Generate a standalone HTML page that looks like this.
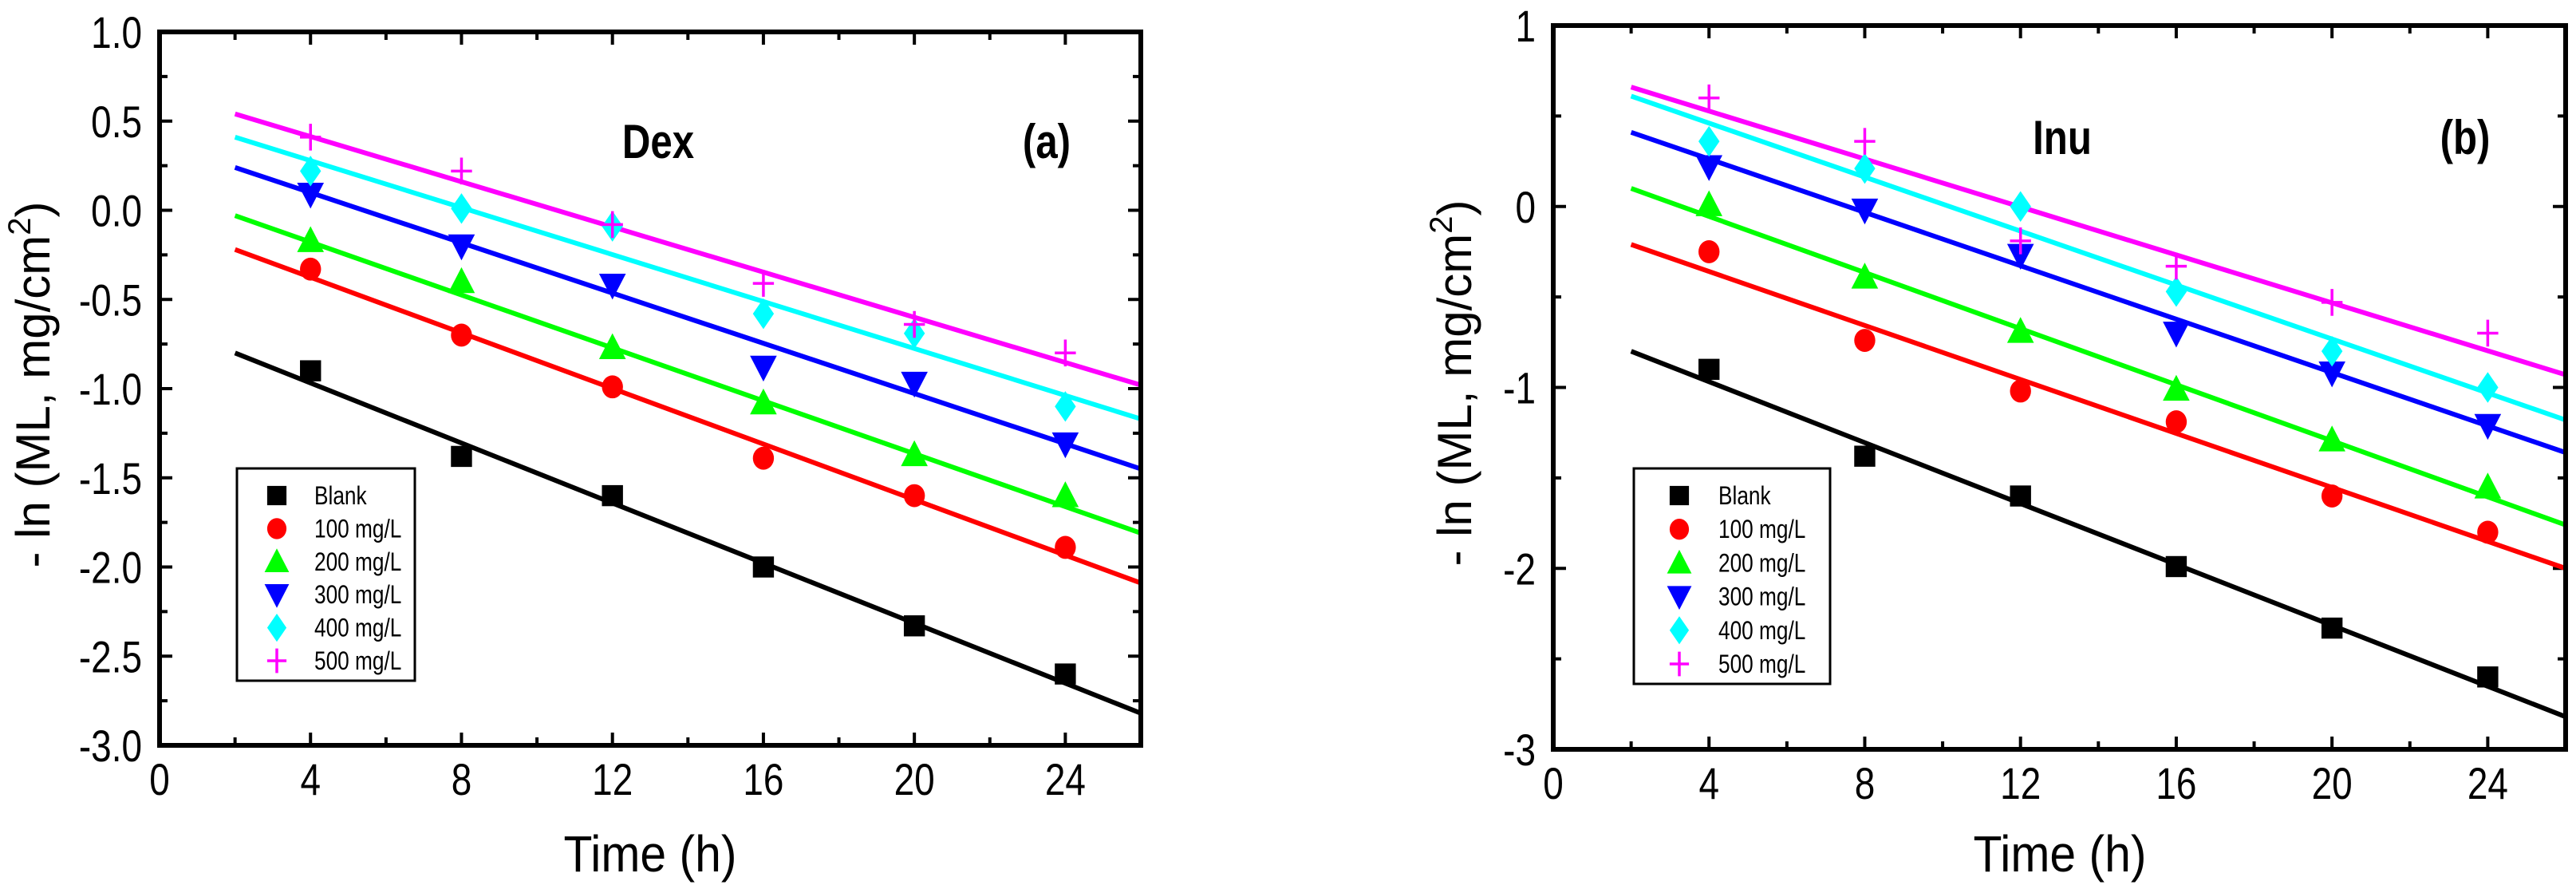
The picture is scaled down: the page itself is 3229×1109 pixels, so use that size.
<!DOCTYPE html>
<html><head><meta charset="utf-8"><style>
html,body{margin:0;padding:0;background:#fff;}
svg{display:block;}
text{font-family:"Liberation Sans",Arial,sans-serif;}
</style></head>
<body>
<svg id="c" width="3229" height="1109" viewBox="0 0 3229 1109" xmlns="http://www.w3.org/2000/svg"></svg>
<script>
// ---- data ----
const times = [4, 8, 12, 16, 20, 24];
const seriesNames = ["Blank", "100 mg/L", "200 mg/L", "300 mg/L", "400 mg/L", "500 mg/L"];
const dexBlank = [-0.9, -1.38, -1.6, -2.0, -2.33, -2.6];
const dex100 = [-0.33, -0.7, -0.99, -1.39, -1.6, -1.89];
const dex200 = [-0.17, -0.4, -0.77, -1.08, -1.37, -1.6];
const dex300 = [0.09, -0.2, -0.42, -0.88, -0.97, -1.31];
const dex400 = [0.22, 0.01, -0.09, -0.58, -0.69, -1.1];
const dex500 = [0.41, 0.22, -0.08, -0.41, -0.64, -0.8];
const dexFitStart = [-0.8, -0.22, -0.03, 0.24, 0.41, 0.54];
const dexFitEnd = [-2.82, -2.09, -1.81, -1.45, -1.17, -0.98];
const inuBlank = [-0.9, -1.38, -1.6, -1.99, -2.33, -2.6];
const inu100 = [-0.25, -0.74, -1.02, -1.19, -1.6, -1.8];
const inu200 = [0.01, -0.39, -0.69, -1.01, -1.29, -1.55];
const inu300 = [0.22, -0.02, -0.27, -0.7, -0.92, -1.21];
const inu400 = [0.36, 0.21, 0.0, -0.47, -0.8, -1.0];
const inu500 = [0.6, 0.36, -0.19, -0.33, -0.53, -0.7];
const inuFitStart = [-0.8, -0.21, 0.10, 0.41, 0.61, 0.66];
const inuFitEnd = [-2.82, -2.0, -1.76, -1.36, -1.18, -0.93];
const fitX = [2, 26];
const xTickLabels = ["0", "4", "8", "12", "16", "20", "24"];
const dexYTicks = ["1.0", "0.5", "0.0", "-0.5", "-1.0", "-1.5", "-2.0", "-2.5", "-3.0"];
const inuYTicks = ["1", "0", "-1", "-2", "-3"];

const colors = ["#000000", "#ff0000", "#00ff00", "#0000ff", "#00ffff", "#ff00ff"];
const shapes = ["square", "circle", "up", "down", "diamond", "plus"];
const NS = "http://www.w3.org/2000/svg";
const svg = document.getElementById("c");

function mk(tag, attrs, parent) {
  const e = document.createElementNS(NS, tag);
  for (const k in attrs) e.setAttribute(k, attrs[k]);
  (parent || svg).appendChild(e);
  return e;
}
function txt(s, x, y, size, anchor, parent, sx, weight) {
  const g = mk("g", {transform: `translate(${x},${y}) scale(${sx || 1},1)`}, parent);
  const t = mk("text", {x: 0, y: 0, "font-size": size, "text-anchor": anchor, fill: "#000", "font-weight": weight || "normal"}, g);
  t.textContent = s;
  return t;
}
function marker(shape, color, cx, cy, sc, parent) {
  let e;
  const a = 11 * sc;
  if (shape === "square") e = mk("rect", {x: cx - a, y: cy - a, width: 2 * a, height: 2 * a, fill: color}, parent);
  else if (shape === "circle") e = mk("ellipse", {cx: cx, cy: cy, rx: a, ry: 12 * sc, fill: color}, parent);
  else if (shape === "up") e = mk("polygon", {points: `${cx},${cy-15*sc} ${cx-14*sc},${cy+12*sc} ${cx+14*sc},${cy+12*sc}`, fill: color}, parent);
  else if (shape === "down") e = mk("polygon", {points: `${cx},${cy+15*sc} ${cx-14*sc},${cy-12*sc} ${cx+14*sc},${cy-12*sc}`, fill: color}, parent);
  else if (shape === "diamond") e = mk("polygon", {points: `${cx},${cy-16*sc} ${cx+a},${cy} ${cx},${cy+16*sc} ${cx-a},${cy}`, fill: color}, parent);
  else e = mk("path", {d: `M${cx-a},${cy}H${cx+a}M${cx},${cy-14*sc}V${cy+14*sc}`, stroke: color, "stroke-width": 3.5, fill: "none"}, parent);
  return e;
}

function panel(p) {
  const g = mk("g", {});
  
  
  const X = v => p.x0 + (v - 0) / 26 * (p.x1 - p.x0);
  const Y = v => p.y0 + (p.ymax - v) / (p.ymax - p.ymin) * (p.y1 - p.y0);
  const tk = mk("g", {stroke: "#000", "stroke-width": 4}, g);
  
  
  for (let v = 2; v < 26; v += 2) {
    const L = v % 4 === 0 ? 16 : 10;
    mk("line", {x1: X(v), x2: X(v), y1: p.y1, y2: p.y1 - L}, tk);
    mk("line", {x1: X(v), x2: X(v), y1: p.y0, y2: p.y0 + L}, tk);
  }
  const nMinor = (p.ymax - p.ymin) / p.minor;
  for (let i = 1; i < nMinor; i++) {
    const v = p.ymax - i * p.minor;
    const L = i % 2 === 0 ? 16 : 10;
    mk("line", {x1: p.x0, x2: p.x0 + L, y1: Y(v), y2: Y(v)}, tk);
    mk("line", {x1: p.x1, x2: p.x1 - L, y1: Y(v), y2: Y(v)}, tk);
  }
  p.yTicks.forEach((s, i) => {
    const v = p.ymax - i * p.major;
    const t = txt(s, p.x0 - 22, Y(v) + 20, 56, "end", g, 0.82);
    
    
  });
  xTickLabels.forEach((s, i) => {
    const t = txt(s, X(i * 4), p.y1 + 62, 56, "middle", g, 0.82);
    
    
  });
  for (let k = 0; k < 6; k++) {
    const ln = mk("line", {x1: X(fitX[0]), y1: Y(p.fitStart[k]), x2: X(fitX[1]), y2: Y(p.fitEnd[k]), stroke: colors[k], "stroke-width": 6}, g);
    
    
  }
  for (let k = 0; k < 6; k++) {
    times.forEach((t, i) => {
      const m = marker(shapes[k], colors[k], X(t), Y(p.series[k][i]), 1.2, g);
      
      
    });
  }
  const fr = mk("rect", {x: p.x0, y: p.y0, width: p.x1 - p.x0, height: p.y1 - p.y0, fill: "none", stroke: "#000", "stroke-width": 6}, g);
  
  
  const lg = mk("g", {}, g);
  
  
  mk("rect", {x: p.lg[0], y: p.lg[1], width: p.lg[2] - p.lg[0], height: p.lg[3] - p.lg[1], fill: "#fff", stroke: "#000", "stroke-width": 3}, lg);
  for (let k = 0; k < 6; k++) {
    const yy = p.lg[1] + 34 + k * p.lgStep;
    marker(shapes[k], colors[k], p.lg[4], yy, 1.1, lg);
    const t = txt(seriesNames[k], p.lg[5], yy + 11, 32, "start", lg, 0.82);
    
    
  }
  const a = txt(p.title, p.title_x, p.title_y, 60, "middle", g, 0.82, "bold");
  
  
  const b = txt(p.tag, p.tag_x, p.tag_y, 60, "middle", g, 0.82, "bold");
  
  
  const xt = txt("Time (h)", p.xt_x, 1092, 64, "middle", g, 0.92);
  
  
  const yg = mk("g", {transform: `translate(${p.yt_x},${p.yt_y}) rotate(-90)`}, g);
  const yt = mk("text", {x: 0, y: 0, "font-size": 60, "text-anchor": "middle", fill: "#000"}, yg);
  
  
  yt.appendChild(document.createTextNode("- ln (ML, mg/cm"));
  const sup = mk("tspan", {"font-size": 40, dy: -24}, yt);
  sup.textContent = "2";
  const cl = mk("tspan", {"font-size": 60, dy: 24}, yt);
  cl.textContent = ")";
}

panel({name: "panel-a-dex", x0: 200, x1: 1430, y0: 40, y1: 934, ymax: 1, ymin: -3, major: 0.5, minor: 0.25,
  yTicks: dexYTicks, series: [dexBlank, dex100, dex200, dex300, dex400, dex500],
  fitStart: dexFitStart, fitEnd: dexFitEnd,
  lg: [297, 587, 520, 853, 347, 394], lgStep: 41.4,
  title: "Dex", title_x: 825, title_y: 198, tag: "(a)", tag_x: 1312, tag_y: 198,
  xt_x: 815, yt_x: 62, yt_y: 482});
panel({name: "panel-b-inu", x0: 1947, x1: 3216, y0: 32, y1: 939, ymax: 1, ymin: -3, major: 1, minor: 0.5,
  yTicks: inuYTicks, series: [inuBlank, inu100, inu200, inu300, inu400, inu500],
  fitStart: inuFitStart, fitEnd: inuFitEnd,
  lg: [2048, 587, 2294, 857, 2105, 2154], lgStep: 42.2,
  title: "Inu", title_x: 2585, title_y: 193, tag: "(b)", tag_x: 3090, tag_y: 193,
  xt_x: 2582, yt_x: 1844, yt_y: 480});
</script>
</body></html>
